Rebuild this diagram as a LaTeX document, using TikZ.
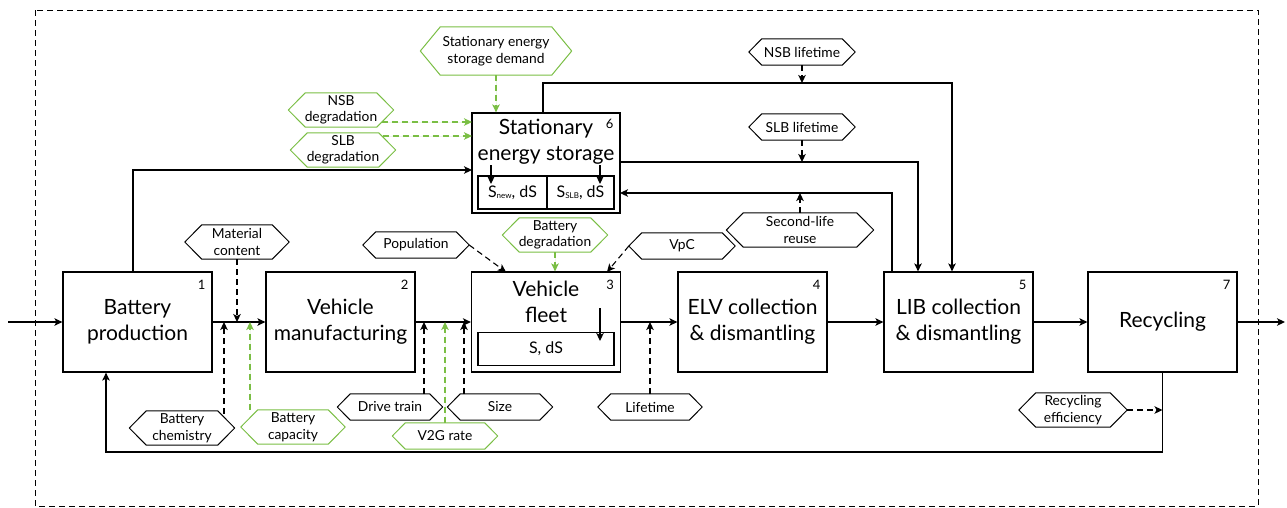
\documentclass[tikz,border=0pt]{standalone}
\usepackage{fontspec}
\setmainfont{Lato}
\usetikzlibrary{arrows.meta}

\definecolor{hexgreen}{RGB}{122,190,68}

\begin{document}
\begin{tikzpicture}[x=1pt,y=-1pt,
  >={Stealth[length=8pt,width=7.5pt,inset=2pt]},
  flow/.style={->, line width=1.2pt},
  dep/.style={->, line width=1.1pt, dash pattern=on 6pt off 4pt},
  gdep/.style={dep, draw=hexgreen, fill=hexgreen},
  stage/.style={draw, line width=1.2pt, minimum width=149pt, minimum height=100pt,
    inner sep=0pt, align=center, font=\fontsize{21}{26}\selectfont},
  stagetext/.style={align=center, inner sep=0pt, font=\fontsize{21}{26}\selectfont},
  cell/.style={draw, line width=1.2pt, inner sep=0pt, minimum height=33pt,
    font=\fontsize{16}{16}\selectfont},
  num/.style={font=\fontsize{13}{13}\selectfont, inner sep=0pt},
  hexagon/.style 2 args={rectangle, inner sep=1pt, align=center,
    font=\fontsize{13.8}{16.5}\selectfont,
    append after command={\pgfextra{\draw[#1, line width=1pt, line join=round]
      (\tikzlastnode.west) -- ([xshift=#2]\tikzlastnode.north west)
      -- ([xshift=-#2]\tikzlastnode.north east) -- (\tikzlastnode.east)
      -- ([xshift=-#2]\tikzlastnode.south east) -- ([xshift=#2]\tikzlastnode.south west)
      -- cycle;}}},
  hs/.style={hexagon={black}{13pt}, minimum height=26pt, minimum width=105pt},
  hl/.style={hexagon={black}{17pt}, minimum height=34pt, minimum width=105pt},
  ghs/.style={hexagon={hexgreen}{13pt}, minimum height=26pt, minimum width=105pt},
  ghl/.style={hexagon={hexgreen}{17pt}, minimum height=34pt, minimum width=105pt},
  ghxl/.style={hexagon={hexgreen}{20pt}, minimum height=48pt, minimum width=151pt},
]
\useasboundingbox (0,0) rectangle (1287,507);

% system boundary
\draw[line width=1pt, dash pattern=on 6pt off 4pt] (35,10) rectangle (1258,506);

% process stages
\node[stage] (bp) at (137.5,322) {Battery\\production};
\node[stage] (vm) at (340.5,322) {Vehicle\\manufacturing};
\node[stage] (vf) at (546,322) {};
\node[stagetext] (vft) at (546,302) {Vehicle\\fleet};
\node[cell, minimum width=136pt] (vfs) at (546,349) {S, dS};
\node[stage] (elv) at (752.5,322) {ELV collection\\\& dismantling};
\node[stage] (lib) at (958.5,322) {LIB collection\\\& dismantling};
\node[stage] (rc) at (1162.5,322) {Recycling};
\node[stage, minimum width=148pt] (ses) at (546,163) {};
\node[stagetext] (sest) at (546,142) {Stationary\\energy storage};
\node[cell, minimum width=69pt] (sn) at (512.5,192.5)
  {S\raisebox{-1pt}{\fontsize{8}{8}\selectfont new}, dS};
\node[cell, minimum width=67pt] (ss) at (580.5,192.5)
  {S\raisebox{-1pt}{\fontsize{8}{8}\selectfont SLB}, dS};

% stage numbers
\node[num] (n1) at ([xshift=-11pt,yshift=-13pt]bp.north east) {1};
\node[num] (n2) at ([xshift=-11pt,yshift=-13pt]vm.north east) {2};
\node[num] (n3) at ([xshift=-11pt,yshift=-13pt]vf.north east) {3};
\node[num] (n4) at ([xshift=-11pt,yshift=-13pt]elv.north east) {4};
\node[num] (n5) at ([xshift=-11pt,yshift=-13pt]lib.north east) {5};
\node[num] (n7) at ([xshift=-11pt,yshift=-13pt]rc.north east) {7};
\node[num] (n6) at ([xshift=-11pt,yshift=-11pt]ses.north east) {6};

% parameters
\node[ghxl] (dem) at (496,51) {Stationary energy\\storage demand};
\node[ghl] (nsbd) at (341,110) {NSB\\degradation};
\node[ghl] (slbd) at (343,150) {SLB\\degradation};
\node[hs, minimum width=106pt] (nsbl) at (802,52) {NSB lifetime};
\node[hs, minimum width=106pt] (slbl) at (802,127) {SLB lifetime};
\node[hl, minimum width=147pt] (slr) at (800,230) {Second-life\\reuse};
\node[hs, minimum width=106pt] (vpc) at (682,246) {VpC};
\node[ghl] (bdeg) at (555,235) {Battery\\degradation};
\node[hs, minimum width=106pt] (pop) at (416,245) {Population};
\node[hl, minimum width=104pt] (mat) at (237,242) {Material\\content};
\node[hl] (chem) at (182,428) {Battery\\chemistry};
\node[ghl, minimum width=104pt] (cap) at (293,427) {Battery\\capacity};
\node[hs] (dt) at (390,407) {Drive train};
\node[ghs] (v2g) at (445,436) {V2G rate};
\node[hs] (sz) at (500,407) {Size};
\node[hs, minimum width=104pt] (lt) at (650,407) {Lifetime};
\node[hl, minimum width=108pt] (re) at (1073,410) {Recycling\\efficiency};

% connector end points
\coordinate (in) at (8,322);
\coordinate (out) at (1285,322);
\coordinate (fb) at (106,452);
\coordinate (bpt) at (133,272);
\coordinate (sesin) at (472,170);
\coordinate (sestop) at (543,113);
\coordinate (nsbc) at (952,83);
\coordinate (sesr) at (620,162);
\coordinate (slbc) at (918,162);
\coordinate (libt) at (892,272);
\coordinate (sesret) at (620,193);
\coordinate (nsbdin) at (472,122);
\coordinate (slbdin) at (472,136);
\coordinate (popin) at (506,272);
\coordinate (vpcin) at (607,272);
\coordinate (chemin) at (224,322);
\coordinate (capin) at (250,322);
\coordinate (dtin) at (424,322);
\coordinate (v2gin) at (445,322);
\coordinate (szin) at (464,322);
\coordinate (vfa) at (600,308);
\coordinate (vfb) at (600,341);
\coordinate (sna) at (491,165);
\coordinate (snb) at (491,184);
\coordinate (ssa) at (600,165);
\coordinate (ssb) at (600,184);

% material flows
\draw[flow] (in) -- (bp.west);
\draw[flow] (bp.east) -- (vm.west);
\draw[flow] (vm.east) -- (vf.west);
\draw[flow] (vf.east) -- (elv.west);
\draw[flow] (elv.east) -- (lib.west);
\draw[flow] (lib.east) -- (rc.west);
\draw[flow] (rc.east) -- (out);
\draw[flow] (rc.south) |- (fb) -- (fb |- bp.south);
\draw[flow] (bpt) |- (sesin);
\draw[flow] (sestop) |- (nsbc) -- (nsbc |- lib.north);
\draw[flow] (sesr) -- (slbc) -- (slbc |- lib.north);
\draw[flow] (libt) |- (sesret);
\draw[flow] (vfa) -- (vfb);
\draw[flow] (sna) -- (snb);
\draw[flow] (ssa) -- (ssb);

% parameter influences
\draw[gdep] (dem.south) -- (dem.south |- ses.north);
\draw[gdep] ([xshift=-12pt]nsbd.east |- nsbdin) -- (nsbdin);
\draw[gdep] ([xshift=-13pt]slbd.east |- slbdin) -- (slbdin);
\draw[dep] (nsbl.south) -- (nsbl.south |- nsbc);
\draw[dep] (slbl.south) -- (slbl.south |- sesr);
\draw[dep] (slr.north) -- (slr.north |- sesret);
\draw[dep] (pop.east) -- (popin);
\draw[dep] (vpc.west) -- (vpcin);
\draw[gdep] (bdeg.south) -- (bdeg.south |- vf.north);
\draw[dep] (mat.south) -- (mat.south |- bp.east);
\draw[dep] ([yshift=-3pt]chem.north -| chemin) -- (chemin);
\draw[gdep] (cap.north -| capin) -- (capin);
\draw[dep] (dt.north -| dtin) -- (dtin);
\draw[gdep] (v2g.north -| v2gin) -- (v2gin);
\draw[dep] (sz.north -| szin) -- (szin);
\draw[dep] (lt.north) -- (lt.north |- vf.east);
\draw[dep] (re.east) -- (re.east -| rc.south);
\end{tikzpicture}
\end{document}
